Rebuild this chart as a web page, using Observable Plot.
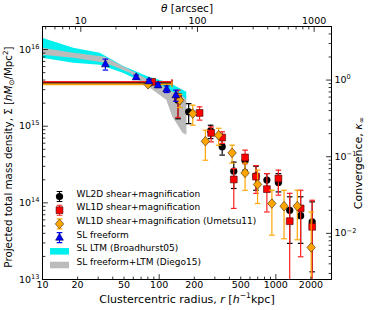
<!DOCTYPE html>
<html><head><meta charset="utf-8">
<script src="https://cdn.jsdelivr.net/npm/d3@7"></script>
<script src="https://cdn.jsdelivr.net/npm/@observablehq/plot@0.6"></script>
<style>
html,body{margin:0;padding:0;background:#fff;}
#chart svg{display:block;}
</style></head><body><div id="chart"></div>
<script>
// ---------------- data ----------------
const KPC_PER_ARCSEC = 2.13;      // r [h^-1 kpc] per arcsec
const SIGMA_CRIT = 4.0e15;        // Sigma for kappa = 1

// central (innermost) bin: mean density inside r_max
const innerR    = [83.5, 86.9, 80.3];          // WL2D, WL1D, Umetsu11
const innerRmin = [10, 10, 10];
const innerRmax = [128.5, 128.5, 128.5];
const innerS    = [3.68e15, 3.8e15, 3.52e15];

// WL2D shear+magnification
const wl2dR  = [145, 179, 276, 347, 436, 545, 676, 838, 1052, 1315, 1632, 2049];
const wl2dS  = [2.18e15, 1.54e15, 8.7e14, 5.4e14, 2.59e14, 3.53e14, 2.23e14, 1.98e14, 1.85e14, 8.0e13, 6.8e13, 5.65e13];
const wl2dLo = [1.25e15, 1.08e15, 6.9e14, 4.2e14, 1.54e14, 2.67e14, 1.46e14, 1.46e14, 1.39e14, 2.96e13, 2.96e13, 1.26e13];
const wl2dHi = [2.54e15, 1.97e15, 1.03e15, 6.57e14, 3.4e14, 4.2e14, 3.0e14, 2.41e14, 2.41e14, 1.2e14, 1.2e14, 1.03e14];

// WL1D shear+magnification
const wl1dR  = [145, 222, 279, 347, 436, 545, 676, 838, 1052, 1315, 1632, 2049];
const wl1dS  = [2.41e15, 1.49e15, 8.18e14, 7.12e14, 2.02e14, 3.91e14, 2.2e14, 1.51e14, 2.08e14, 5.77e13, 8.46e13, 4.87e13];
const wl1dLo = [1.3e15, 1.2e15, 6.25e14, 5.96e14, 8.46e13, 3.25e14, 1.33e14, 7.6e13, 1.26e14, 5e12, 1.98e13, 5e12];
const wl1dHi = [2.95e15, 1.79e15, 9.8e14, 8.45e14, 2.8e14, 4.87e14, 3.06e14, 2.41e14, 2.67e14, 1.33e14, 1.46e14, 1.08e14];

// WL1D shear+magnification (Umetsu11)
const u11R  = [150, 194, 249, 323, 422, 545, 697, 925, 1176, 1527, 2009];
const u11S  = [2.18e15, 1.46e15, 6.37e14, 7.63e14, 4.49e14, 2.46e14, 1.74e14, 9.8e13, 9.06e13, 9.06e13, 2.62e13];
const u11Lo = [1.75e15, 1.03e15, 3.6e14, 5.65e14, 3.3e14, 1.46e14, 9.8e13, 3.79e13, 3.4e13, 3.3e13, 5e12];
const u11Hi = [2.6e15, 1.88e15, 8.87e14, 9.4e14, 5.65e14, 3.3e14, 2.67e14, 1.46e14, 1.46e14, 1.46e14, 7.6e13];

// SL freeform
const slR  = [34.6, 63.5, 81.8, 97.7, 116, 139];
const slS  = [6.43e15, 4.36e15, 3.86e15, 3.43e15, 3.04e15, 2.54e15];
const slLo = [5.4e15, 4.1e15, 3.65e15, 3.2e15, 2.75e15, 2.12e15];
const slHi = [7.5e15, 4.65e15, 4.1e15, 3.65e15, 3.35e15, 2.95e15];

// SL LTM (Broadhurst05) band
const ltmR  = [10, 18.5, 31.3, 49.2, 81.7, 123.6, 172.4];
const ltmLo = [7.71e15, 6.63e15, 6.24e15, 4.91e15, 3.43e15, 2.69e15, 2.18e15];
const ltmHi = [1.40e16, 1.04e16, 8.95e15, 6.05e15, 4.36e15, 3.64e15, 2.77e15];

// SL freeform+LTM (Diego15) band
const dgR  = [10, 18.5, 34.6, 56.5, 81.7, 116, 131, 160, 173];
const dgLo = [8.43e15, 7.71e15, 6.63e15, 4.91e15, 3.22e15, 2.18e15, 1.31e15, 8.1e14, 7.6e14];
const dgHi = [1.04e16, 8.95e15, 7.94e15, 5.37e15, 3.98e15, 3.13e15, 2.77e15, 2.45e15, 2.18e15];

// ticks
const xMajor = [10, 100, 1000];
const xMinor = [20, 30, 40, 50, 60, 70, 80, 90, 200, 300, 400, 500, 600, 700, 800, 900, 2000];
const xLabels = [10, 20, 50, 100, 200, 500, 1000, 2000];
const thMajor = [10, 100, 1000];
const thMinor = [5, 6, 7, 8, 9, 20, 30, 40, 50, 60, 70, 80, 90, 200, 300, 400, 500, 600, 700, 800, 900];
const yMajor = [1e13, 1e14, 1e15, 1e16];
const yMinor = [2,3,4,5,6,7,8,9].flatMap(m => [m*1e13, m*1e14, m*1e15]);
const kMajor = [0.01, 0.1, 1];
const kMinor = [0.003,0.004,0.005,0.006,0.007,0.008,0.009, 0.02,0.03,0.04,0.05,0.06,0.07,0.08,0.09, 0.2,0.3,0.4,0.5,0.6,0.7,0.8,0.9, 2,3,4];

const legendLabels = ["WL2D shear+magnification", "WL1D shear+magnification",
  "WL1D shear+magnification (Umetsu11)", "SL freeform", "SL LTM (Broadhurst05)", "SL freeform+LTM (Diego15)"];

// ---------------- helpers ----------------
const rows = (R, S, Lo, Hi) => R.map((r, i) => ({r, s: S[i], lo: Lo[i], hi: Hi[i]}));
const rowsBand = (R, Lo, Hi) => R.map((r, i) => ({r, lo: Lo[i], hi: Hi[i]}));

const lineShape = {draw(ctx, l) { ctx.moveTo(0, 0); ctx.lineTo(0, -l); }};
const hcap = {draw(ctx) { ctx.moveTo(-2.8, 0); ctx.lineTo(2.8, 0); }};
const vcap = {draw(ctx) { ctx.moveTo(0, -2.8); ctx.lineTo(0, 2.8); }};
const squareSym = {draw(ctx) { ctx.rect(-3.4, -3.4, 6.8, 6.8); }};
const diamondSym = {draw(ctx) { ctx.moveTo(0, -4.8); ctx.lineTo(4.2, 0); ctx.lineTo(0, 4.8); ctx.lineTo(-4.2, 0); ctx.closePath(); }};
const triSym = {draw(ctx) { ctx.moveTo(0, -4.4); ctx.lineTo(3.9, 2.6); ctx.lineTo(-3.9, 2.6); ctx.closePath(); }};
const errSym = {draw(ctx) { ctx.moveTo(0,-5); ctx.lineTo(0,5); ctx.moveTo(-2.8,-5); ctx.lineTo(2.8,-5); ctx.moveTo(-2.8,5); ctx.lineTo(2.8,5); }};
const patchSym = {draw(ctx) { ctx.rect(-9.5, -3.3, 19, 6.6); }};

const series = [
  {data: rows(wl2dR, wl2dS, wl2dLo, wl2dHi), err: "black", fill: "black", edge: "none", sym: "circle", r: 3.6},
  {data: rows(wl1dR, wl1dS, wl1dLo, wl1dHi), err: "#ff2020", fill: "#ff0000", edge: "#400", sym: squareSym, r: 3},
  {data: rows(u11R, u11S, u11Lo, u11Hi), err: "#ffa500", fill: "#ffa500", edge: "#3a2000", sym: diamondSym, r: 3},
  {data: rows(slR, slS, slLo, slHi), err: "#0000ff", fill: "#0000ff", edge: "#000050", sym: triSym, r: 3}
];

const marks = [];
marks.push(Plot.area(rowsBand(ltmR, ltmLo, ltmHi), {x1: "r", y1: "lo", y2: "hi", fill: "#00f0f0"}));
marks.push(Plot.area(rowsBand(dgR, dgLo, dgHi), {x1: "r", y1: "lo", y2: "hi", fill: "#bbbbbb"}));

// inner bins
const innerData = innerR.map((r, i) => ({r, s: innerS[i], r1: innerRmin[i], r2: innerRmax[i]}));
[0,1,2].forEach(i => {
  const d = [innerData[i]];
  const sr = series[i];
  marks.push(Plot.ruleY(d, {y: "s", x1: "r1", x2: "r2", stroke: sr.err, strokeWidth: 1.6}));
  marks.push(Plot.dot(d, {x: "r2", y: "s", symbol: vcap, r: 3, fill: "none", stroke: sr.err, strokeWidth: 1.2}));
});

series.forEach((sr, i) => {
  const all = i < 3 ? [...sr.data, {r: innerData[i].r, s: innerData[i].s}] : sr.data;
  const eb = sr.data;
  marks.push(Plot.ruleX(eb, {x: "r", y1: "lo", y2: "hi", stroke: sr.err, strokeWidth: 1.2, clip: true}));
  marks.push(Plot.dot(eb, {x: "r", y: "lo", symbol: hcap, r: 3, fill: "none", stroke: sr.err, strokeWidth: 1.2, clip: true}));
  marks.push(Plot.dot(eb, {x: "r", y: "hi", symbol: hcap, r: 3, fill: "none", stroke: sr.err, strokeWidth: 1.2, clip: true}));
  marks.push(Plot.dot(all, {x: "r", y: "s", symbol: sr.sym, r: sr.r, fill: sr.fill, stroke: sr.edge, strokeWidth: 0.6}));
});

// frame and ticks
marks.push(Plot.frame({stroke: "black", strokeWidth: 1}));
const tickMark = (values, acc, anchor, len) => Plot.vector(values, {
  [anchor === "top" || anchor === "bottom" ? "x" : "y"]: acc,
  frameAnchor: anchor, length: len,
  rotate: {bottom: 0, top: 180, left: 90, right: -90}[anchor],
  anchor: "start", shape: lineShape, stroke: "black", strokeWidth: 0.8
});
marks.push(tickMark(xMajor, d => d, "bottom", 5), tickMark(xMinor, d => d, "bottom", 2.5));
marks.push(tickMark(thMajor, d => d * KPC_PER_ARCSEC, "top", 5), tickMark(thMinor, d => d * KPC_PER_ARCSEC, "top", 2.5));
marks.push(tickMark(yMajor, d => d, "left", 5), tickMark(yMinor, d => d, "left", 2.5));
marks.push(tickMark(kMajor, d => d * SIGMA_CRIT, "right", 5), tickMark(kMinor, d => d * SIGMA_CRIT, "right", 2.5));

const TF = 9.5;
marks.push(Plot.text(xLabels, {x: d => d, frameAnchor: "bottom", dy: 2, lineAnchor: "top", text: d => String(d), fontSize: TF}));
marks.push(Plot.text(thMajor, {x: d => d * KPC_PER_ARCSEC, frameAnchor: "top", dy: -2.5, lineAnchor: "bottom", text: d => String(d), fontSize: TF}));
marks.push(Plot.text(yMajor, {y: d => d, frameAnchor: "left", dx: -3, textAnchor: "end", text: d => `10^{${Math.round(Math.log10(d))}}`, fontSize: TF}));
marks.push(Plot.text(kMajor, {y: d => d * SIGMA_CRIT, frameAnchor: "right", dx: 3, textAnchor: "start", text: d => `10^{${String(Math.round(Math.log10(d))).replace("-", "\u2212")}}`, fontSize: TF}));

// axis titles
const LF = 11;
marks.push(Plot.text(["Clustercentric radius, $r$ [$h$^{\u22121}kpc]"], {x: null, y: null, frameAnchor: "bottom", dy: 23, text: d => d, fontSize: LF}));
marks.push(Plot.text(["$\u03b8$ [arcsec]"], {x: null, y: null, frameAnchor: "top", dy: -21.5, text: d => d, fontSize: 10.5}));
marks.push(Plot.text(["Projected total mass density, \u03a3 [$hM$_{\u2299}/Mpc^{2}]"], {x: null, y: null, frameAnchor: "left", textAnchor: "middle", dx: -34, dy: 4, rotate: -90, text: d => d, fontSize: 10.3}));
marks.push(Plot.text(["Convergence, $\u03ba$_{\u221e}"], {x: null, y: null, frameAnchor: "right", textAnchor: "middle", dx: 27, dy: 10, rotate: -90, text: d => d, fontSize: LF}));

// legend
const legendSpec = [
  {err: "black", sym: "circle", r: 3.6, fill: "black", edge: "none"},
  {err: "#ff2020", sym: squareSym, r: 3, fill: "#ff0000", edge: "#400"},
  {err: "#ffa500", sym: diamondSym, r: 3, fill: "#ffa500", edge: "#3a2000"},
  {err: "#0000ff", sym: triSym, r: 3, fill: "#0000ff", edge: "#000050"},
  {patch: "#00f0f0"},
  {patch: "#bbbbbb"}
];
legendLabels.forEach((label, i) => {
  const dy = -83 + i * 13.7;
  const sp = legendSpec[i];
  const base = {x: null, y: null, frameAnchor: "bottom-left", dy};
  if (sp.patch) {
    marks.push(Plot.dot([0], {...base, dx: 17, symbol: patchSym, r: 3, fill: sp.patch, stroke: "none"}));
  } else {
    marks.push(Plot.dot([0], {...base, dx: 17, symbol: errSym, r: 3, fill: "none", stroke: sp.err, strokeWidth: 1.1}));
    marks.push(Plot.dot([0], {...base, dx: 17, symbol: sp.sym, r: sp.r, fill: sp.fill, stroke: sp.edge, strokeWidth: 0.6}));
  }
  marks.push(Plot.text([label], {...base, dx: 34, textAnchor: "start", text: d => d, fontSize: 9}));
});

const chart = Plot.plot({
  width: 374, height: 310,
  marginLeft: 42, marginRight: 43, marginTop: 26, marginBottom: 31,
  style: {fontFamily: "'DejaVu Sans', sans-serif", background: "white", color: "black"},
  x: {type: "log", domain: [10, 3000], axis: null},
  y: {type: "log", domain: [1e13, 2e16], axis: null},
  marks
});
document.getElementById("chart").appendChild(chart);

// rich text: $..$ italic, ^{..} superscript, _{..} subscript
function parseRich(s) {
  const segs = []; let italic = false, buf = "", i = 0;
  const flush = () => { if (buf) segs.push({t: buf, it: italic, m: "n"}); buf = ""; };
  while (i < s.length) {
    const c = s[i];
    if (c === "$") { flush(); italic = !italic; i++; }
    else if ((c === "^" || c === "_") && s[i + 1] === "{") {
      flush();
      const j = s.indexOf("}", i + 2);
      segs.push({t: s.slice(i + 2, j), it: false, m: c === "^" ? "sup" : "sub"});
      i = j + 1;
    } else { buf += c; i++; }
  }
  flush();
  return segs;
}
chart.querySelectorAll("text").forEach(t => {
  const s = t.textContent;
  if (!/[$^_]/.test(s)) return;
  const fsz = parseFloat(getComputedStyle(t).fontSize) || 10;
  const segs = parseRich(s);
  t.textContent = "";
  let off = 0;
  segs.forEach(g => {
    const ts = document.createElementNS("http://www.w3.org/2000/svg", "tspan");
    ts.textContent = g.t;
    if (g.it) ts.setAttribute("font-style", "italic");
    let target = 0;
    if (g.m === "sup") { target = -0.4 * fsz; ts.setAttribute("font-size", (0.7 * fsz) + "px"); }
    if (g.m === "sub") { target = 0.22 * fsz; ts.setAttribute("font-size", (0.7 * fsz) + "px"); }
    if (target !== off) { ts.setAttribute("dy", target - off); off = target; }
    t.appendChild(ts);
  });
});
</script>
</body></html>
